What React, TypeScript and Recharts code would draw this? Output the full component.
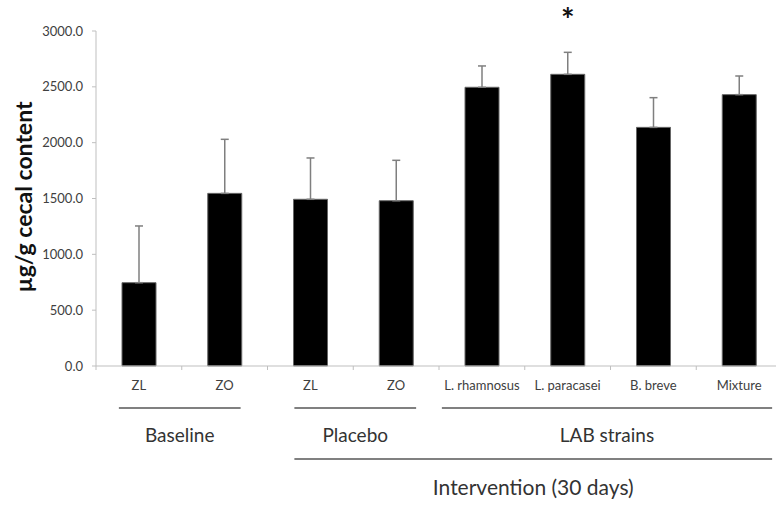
import React from 'react';
import { BarChart, Bar, XAxis, YAxis, ErrorBar, LabelList } from 'recharts';

const categories = ['ZL', 'ZO', 'ZL', 'ZO', 'L. rhamnosus', 'L. paracasei', 'B. breve', 'Mixture'];
const means = [746, 1546, 1493, 1480, 2496, 2612, 2137, 2430];
const upperErrors = [508, 484, 370, 362, 191, 197, 266, 167];
const significance = ['', '', '', '', '', '*', '', ''];
const yTicks = [0, 500, 1000, 1500, 2000, 2500, 3000];

const groups = [
  { name: 'Baseline', first: 0, last: 1 },
  { name: 'Placebo', first: 2, last: 3 },
  { name: 'LAB strains', first: 4, last: 7 },
];
const period = { name: 'Intervention (30 days)', first: 2, last: 7 };

const data = categories.map((label, i) => ({
  label,
  mean: means[i],
  err: [0, upperErrors[i]],
  sig: significance[i],
}));

const FONT = "Lato, 'Open Sans', sans-serif";
const CHART_W = 782;
const CHART_H = 506;
const Y_AXIS_W = 96;
const BAND = (CHART_W - Y_AXIS_W) / categories.length;

// how far each bracket line sticks out past its first / last bar centre
const pads: Record<string, [number, number]> = {
  Baseline: [20, 16],
  Placebo: [16, 20],
  'LAB strains': [40, 33],
};

const CategoryTick = (props: any) => {
  const { x, y, payload } = props;
  const i = payload.index;
  const parts: React.ReactNode[] = [];

  // tick marks sit between categories
  parts.push(<line key="t0" x1={x - BAND / 2} x2={x - BAND / 2} y1={y} y2={y + 4} stroke="#bfbfbf" />);
  if (i === categories.length - 1) {
    parts.push(<line key="t1" x1={x + BAND / 2} x2={x + BAND / 2} y1={y} y2={y + 4} stroke="#bfbfbf" />);
  }

  parts.push(
    <text key="lbl" x={x} y={y + 24} textAnchor="middle" fontSize={13} fill="#404040" fontFamily={FONT}>
      {payload.value}
    </text>
  );

  groups.forEach((g) => {
    if (g.first !== i) return;
    const [pl, pr] = pads[g.name];
    const x1 = x - pl;
    const x2 = x + (g.last - g.first) * BAND + pr;
    parts.push(<line key={g.name} x1={x1} x2={x2} y1={y + 42} y2={y + 42} stroke="#808080" strokeWidth={2} />);
    parts.push(
      <text key={g.name + 't'} x={(x1 + x2) / 2} y={y + 76} textAnchor="middle" fontSize={19} fill="#333" fontFamily={FONT}>
        {g.name}
      </text>
    );
  });

  if (i === period.first) {
    const x1 = x - pads.Placebo[0];
    const x2 = x + (period.last - period.first) * BAND + pads['LAB strains'][1];
    parts.push(<line key="per" x1={x1} x2={x2} y1={y + 93} y2={y + 93} stroke="#808080" strokeWidth={2} />);
    parts.push(
      <text key="pert" x={(x1 + x2) / 2} y={y + 129} textAnchor="middle" fontSize={21} fill="#333" fontFamily={FONT}>
        {period.name}
      </text>
    );
  }

  return <g>{parts}</g>;
};

const YLabel = () => (
  <text
    x={32}
    y={197}
    transform="rotate(-90, 32, 197)"
    textAnchor="middle"
    fontSize={23}
    fontWeight="bold"
    fill="#111"
    fontFamily={FONT}
  >
    µg/g cecal content
  </text>
);

const Star = (p: any) => {
  if (!p.value) return null;
  return (
    <text x={p.x + p.width / 2} y={p.y - 42} textAnchor="middle" fontSize={32} fontWeight="bold" fill="#111" fontFamily={FONT}>
      {p.value}
    </text>
  );
};

const App: React.FC = () => {
  return (
    <div style={{ position: 'fixed', left: 0, top: 0, width: 776, height: 506, overflow: 'hidden', background: '#fff' }}>
      <BarChart width={CHART_W} height={CHART_H} data={data} margin={{ top: 31, right: 0, left: 0, bottom: 0 }}>
        <XAxis
          dataKey="label"
          height={140}
          interval={0}
          tickLine={false}
          tickSize={0}
          tickMargin={0}
          axisLine={{ stroke: '#bfbfbf' }}
          tick={<CategoryTick />}
        />
        <YAxis
          width={Y_AXIS_W}
          domain={[0, 3000]}
          ticks={yTicks}
          interval={0}
          tickFormatter={(v: number) => v.toFixed(1)}
          tick={{ fontSize: 13, fill: '#404040', fontFamily: FONT }}
          tickSize={4}
          tickMargin={9}
          axisLine={{ stroke: '#bfbfbf' }}
          tickLine={{ stroke: '#bfbfbf' }}
          label={<YLabel />}
        />
        <Bar dataKey="mean" fill="#000" stroke="#666" strokeWidth={1} barSize={34} isAnimationActive={false}>
          <ErrorBar dataKey="err" direction="y" width={4} stroke="#7f7f7f" strokeWidth={1.5} isAnimationActive={false} />
          <LabelList dataKey="sig" content={<Star />} />
        </Bar>
      </BarChart>
    </div>
  );
};

export default App;
